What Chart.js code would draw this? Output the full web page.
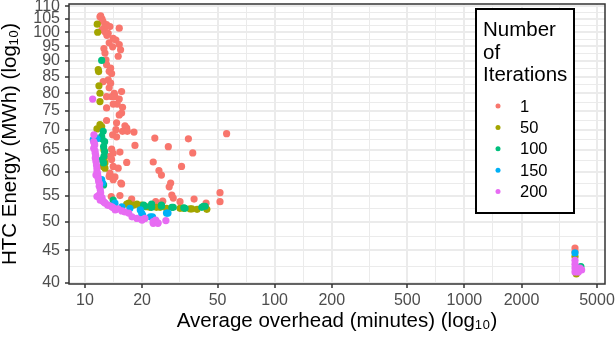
<!DOCTYPE html>
<html>
<head>
<meta charset="utf-8">
<script src="https://cdn.jsdelivr.net/npm/chart.js@4/dist/chart.umd.min.js"></script>
<style>
  html, body { margin: 0; padding: 0; background: #fff; }
</style>
</head>
<body>
<canvas id="chart" width="616" height="338"></canvas>
<script>
// Number of iterations (legend order)
const iterations = ['1', '50', '100', '150', '200'];

// tick labels
const xTickValues = [10, 20, 50, 100, 200, 500, 1000, 2000, 5000];
const yTickValues = [40, 45, 50, 55, 60, 65, 70, 75, 80, 85, 90, 95, 100, 105, 110];

// Average overhead (minutes) and HTC energy (MWh), one pair of arrays per iteration count
const overhead1 = [12.0, 12.1, 12.29, 12.45, 13.0, 13.54, 15.16, 12.59, 12.29, 12.75, 13.26, 13.05, 14.09, 14.56, 13.42,
  15.16, 13.99, 12.59, 15.41, 12.75, 14.97, 12.9, 13.0, 13.66, 13.42, 13.82, 12.48, 13.26, 13.66, 13.42, 15.6, 14.28,
  13.0, 13.82, 14.39, 15.16, 14.79, 14.09, 15.78, 13.0, 15.6, 15.16, 13.0, 14.68, 16.25, 16.6, 14.56, 15.78, 16.72,
  18.13, 13.99, 14.68, 23.35, 35.1, 55.8, 18.35, 27.5, 13.82, 15.29, 37.0, 14.09, 13.82, 16.6, 22.9, 14.09, 14.97,
  24.55, 32.3, 25.3, 13.42, 14.09, 15.46, 28.3, 27.8, 28.7, 15.29, 29.2, 51.5, 51.5, 37.6, 17.63, 23.6, 31.7, 43.5,
  25.7, 13.54, 14.39, 15.6, 13.76, 13.54, 3828, 3828];
const energy1 = [105.8, 106.2, 105.0, 104.0, 102.8, 102.1, 101.5, 101.5, 100.9, 100.2, 99.6, 98.9, 97.8, 97.2, 96.2,
  95.6, 94.8, 94.2, 93.8, 92.7, 91.6, 90.4, 88.8, 87.7, 86.7, 86.0, 83.5, 84.0, 83.0, 81.6, 80.5, 80.0,
  79.0, 79.0, 79.0, 78.3, 76.9, 76.9, 76.0, 75.8, 74.4, 73.9, 72.4, 71.8, 71.0, 70.4, 70.0, 69.6, 69.6,
  69.4, 68.7, 68.2, 67.9, 67.7, 69.0, 66.1, 65.8, 65.2, 64.5, 64.3, 64.2, 62.8, 62.1, 62.2, 61.2, 60.8,
  60.3, 61.2, 59.3, 59.0, 58.3, 57.6, 57.6, 56.8, 55.1, 55.0, 54.5, 55.6, 53.8, 54.3, 54.3, 53.8, 53.8, 53.5,
  53.9, 63.5, 58.9, 57.4, 54.8, 59.7, 45.4, 44.8];

const overhead50 = [11.61, 11.67, 11.75, 11.81, 11.85, 12.0, 12.0, 11.57, 12.0, 12.25, 12.59, 12.59, 12.75, 12.75,
  16.6, 17.01, 17.98, 18.8, 19.5, 19.9, 21.1, 22.0, 23.8, 24.9, 26.9, 31.7, 33.0, 35.8, 36.6, 39.0, 43.9, 3828, 3890, 12.48];
const energy50 = [103.0, 100.0, 87.2, 86.6, 82.2, 80.0, 77.6, 70.2, 71.3, 70.8, 65.0, 62.7, 62.0, 60.8,
  53.3, 53.5, 53.1, 53.3, 52.9, 53.1, 52.8, 52.7, 52.7, 52.7, 52.5, 52.5, 52.5, 52.4, 52.4, 52.3, 52.3, 44.0, 41.3, 61.2];

const overhead100 = [12.25, 12.48, 12.25, 12.29, 12.7, 12.54, 12.7, 12.59, 12.29, 12.54, 12.54, 14.09, 20.4, 20.45,
  20.7, 22.45, 22.45, 25.3, 25.3, 28.7, 29.2, 33.2, 33.7, 41.3, 42.1, 43.0, 4110];
const energy100 = [90.2, 69.6, 68.3, 67.7, 67.0, 65.8, 64.6, 63.5, 62.7, 62.0, 57.2, 54.1, 53.1, 53.0,
  52.9, 53.3, 52.7, 53.1, 52.9, 52.7, 52.7, 52.6, 52.5, 52.7, 52.9, 52.9, 42.4];

const overhead150 = [11.29, 11.06, 11.57, 12.25, 12.39, 14.39, 15.65, 17.27, 19.57, 19.9, 20.15, 22.1, 22.7, 26.9, 27.4, 3828];
const energy150 = [68.1, 67.5, 67.7, 58.3, 57.6, 53.5, 52.8, 52.5, 52.2, 51.6, 51.2, 50.9, 50.9, 51.6, 51.6, 44.6];

const overhead200 = [10.98, 11.15, 11.12, 11.26, 11.12, 11.33, 11.33, 11.43, 11.57, 11.57, 11.43, 11.71, 11.81, 11.89,
  11.85, 12.04, 11.57, 12.04, 12.45, 12.79, 13.18, 13.87, 14.44, 14.93, 15.65, 16.25, 17.01, 17.7, 18.8, 19.9,
  20.0, 20.7, 22.9, 22.9, 23.6, 24.25, 24.25, 26.7, 3828, 3828, 3828, 3828, 4069, 4150, 3990,
  11.2, 11.3, 11.4, 11.5, 11.65, 11.75, 11.95, 12.1, 12.3, 12.6, 13.5, 14.1];
const energy200 = [78.3, 68.7, 67.0, 66.2, 65.4, 64.2, 63.1, 62.3, 60.8, 60.1, 59.3, 59.0, 57.9, 56.9,
  55.1, 56.2, 54.8, 54.1, 53.9, 53.5, 53.1, 52.8, 52.2, 52.4, 52.0, 51.8, 51.6, 50.9, 50.6, 50.4,
  50.3, 50.6, 49.7, 50.0, 50.3, 49.7, 49.8, 50.2, 43.4, 42.8, 42.2, 41.6, 42.2, 41.9, 41.6,
  66.6, 64.8, 63.6, 61.5, 59.6, 58.5, 57.4, 55.6, 54.6, 53.7, 53.0, 52.6];

const seriesX = [overhead1, overhead50, overhead100, overhead150, overhead200];
const seriesY = [energy1, energy50, energy100, energy150, energy200];
const colors = ['#F8766D', '#A3A500', '#00BF7D', '#00B0F6', '#E76BF3'];

const FONT = '"Liberation Sans", Arial, sans-serif';
Chart.defaults.font.family = FONT;

// ggplot style: minor grid lines halfway between breaks (in log space)
const withMinor = vals => {
  const minor = vals.slice(1).map((v, i) => ({ value: Math.sqrt(v * vals[i]), minor: true }));
  return vals.map(v => ({ value: v, minor: false })).concat(minor).sort((a, b) => a.value - b.value);
};

const grid = {
  color: '#EBEBEB',
  lineWidth: c => (c.tick && c.tick.minor ? 1 : 2),
  tickColor: c => (c.tick && c.tick.minor ? 'rgba(0,0,0,0)' : '#333333'),
  tickWidth: 1.5,
  tickLength: 4
};

const panelBorder = {
  id: 'panelBorder',
  afterDatasetsDraw(chart) {
    const { ctx, chartArea: a } = chart;
    ctx.save();
    ctx.strokeStyle = '#333333';
    ctx.lineWidth = 1.5;
    ctx.strokeRect(a.left, a.top, a.right - a.left, a.bottom - a.top);
    ctx.restore();
  }
};

const legendTitle = ['Number', 'of', 'Iterations'];
const legendBox = {
  id: 'legendBox',
  afterDraw(chart) {
    const { ctx, chartArea: a } = chart;
    const left = a.right - 129, top = a.top + 5, w = 98, h = 204;
    ctx.save();
    ctx.fillStyle = '#fff';
    ctx.fillRect(left, top, w, h);
    ctx.lineWidth = 2;
    ctx.strokeStyle = '#000';
    ctx.strokeRect(left, top, w, h);
    ctx.fillStyle = '#000';
    ctx.textAlign = 'left';
    ctx.textBaseline = 'alphabetic';
    ctx.font = '20.5px ' + FONT;
    legendTitle.forEach((t, i) => ctx.fillText(t, left + 7, top + 27 + i * 22.5));
    ctx.font = '16.5px ' + FONT;
    ctx.textBaseline = 'middle';
    chart.data.datasets.forEach((ds, i) => {
      const y = top + 97 + i * 21.4;
      ctx.fillStyle = ds.backgroundColor;
      ctx.beginPath();
      ctx.arc(left + 22, y, 2.5, 0, Math.PI * 2);
      ctx.fill();
      ctx.fillStyle = '#000';
      ctx.fillText(ds.label, left + 44, y + 1);
    });
    ctx.restore();
  }
};

new Chart(document.getElementById('chart'), {
  type: 'scatter',
  data: {
    datasets: iterations.map((label, i) => ({
      label,
      data: seriesX[i].map((x, j) => ({ x, y: seriesY[i][j] })),
      backgroundColor: colors[i],
      borderWidth: 0,
      pointRadius: 3.6,
      pointHoverRadius: 3.6,
      order: iterations.length - i
    }))
  },
  options: {
    responsive: false,
    animation: false,
    layout: { padding: { left: 0, top: 4, right: 11, bottom: 0 } },
    plugins: {
      legend: { display: false },
      tooltip: { enabled: false }
    },
    scales: {
      x: {
        type: 'logarithmic',
        bounds: 'data',
        min: 8.24,
        max: 5510,
        afterBuildTicks: s => { s.ticks = withMinor(xTickValues); },
        afterFit: s => { s.height = 54; s.paddingLeft = 0; s.paddingRight = 0; },
        ticks: {
          autoSkip: false,
          maxRotation: 0,
          padding: 3,
          color: '#4D4D4D',
          font: { size: 16 },
          callback: (v, i, t) => (t[i].minor ? '' : String(v))
        },
        grid,
        border: { display: false },
        title: {
          display: true,
          text: 'Average overhead (minutes) (log₁₀)',
          color: '#000',
          font: { size: 20.5, lineHeight: 1 },
          padding: { top: 0, bottom: 6 }
        }
      },
      y: {
        type: 'logarithmic',
        bounds: 'data',
        min: 39.8,
        max: 110.9,
        afterBuildTicks: s => { s.ticks = withMinor(yTickValues); },
        afterFit: s => { s.width = 69; s.paddingTop = 0; s.paddingBottom = 0; },
        ticks: {
          autoSkip: false,
          padding: 5,
          color: '#4D4D4D',
          font: { size: 16 },
          callback: (v, i, t) => (t[i].minor ? '' : String(v))
        },
        grid,
        border: { display: false },
        title: {
          display: true,
          text: 'HTC Energy (MWh) (log₁₀)',
          color: '#000',
          font: { size: 20.5, lineHeight: 1 },
          padding: { top: 0, bottom: 0 }
        }
      }
    }
  },
  plugins: [panelBorder, legendBox]
});
</script>
</body>
</html>
